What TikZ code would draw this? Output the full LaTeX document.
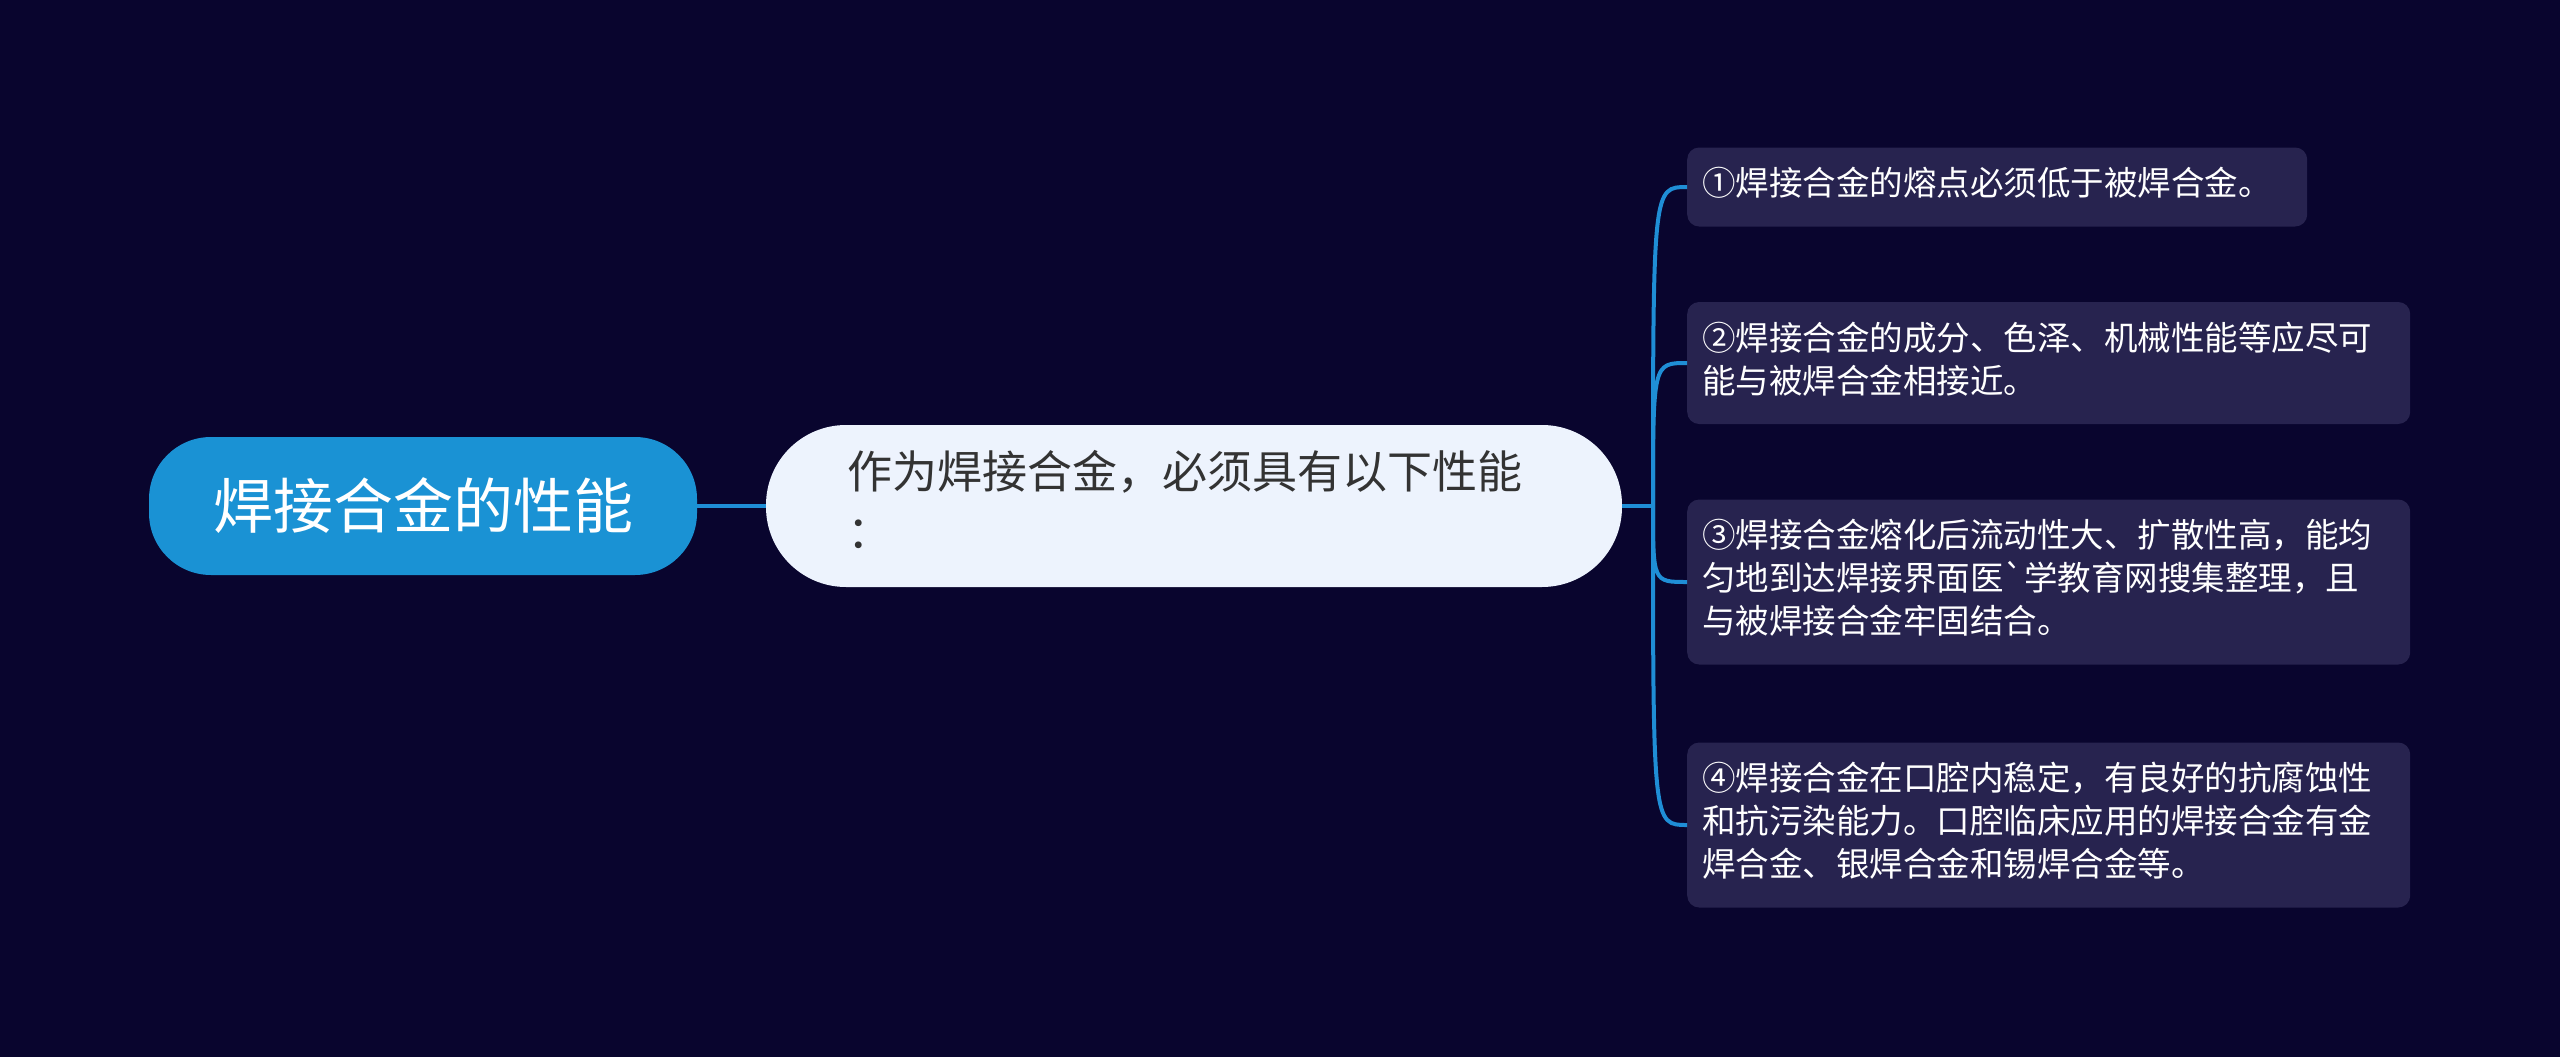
\documentclass[tikz,border=0pt]{standalone}
\usepackage{fontspec}
\setmainfont{Noto Sans CJK SC}[Ligatures=TeXOff]
\usepackage{tikz}
\usetikzlibrary{positioning,calc}

\definecolor{bgcol}{HTML}{09052E}
\definecolor{rootcol}{HTML}{1A92D4}
\definecolor{maincol}{HTML}{EDF3FD}
\definecolor{leafcol}{HTML}{27234F}
\definecolor{linecol}{HTML}{1F8ED6}
\definecolor{darktext}{HTML}{333333}

\begin{document}
\begin{tikzpicture}[x=1pt, y=-1pt,
        rootnode/.style={draw=none, fill=rootcol, rounded corners=62pt, minimum width=548pt, minimum height=138pt, text=white, font=\fontsize{60}{72}\selectfont},
        mainnode/.style={draw=none, fill=maincol, rounded corners=80pt, minimum width=856pt, minimum height=162pt, text=darktext, align=left, text width=694pt, inner xsep=81pt, font=\fontsize{45}{60}\selectfont},
        leafnode/.style={draw=none, fill=leafcol, rounded corners=12pt, anchor=west, text=white, align=left, inner xsep=15pt, inner ysep=18pt, font=\fontsize{33.5}{43}\selectfont, execute at begin node={\strut}, execute at end node={\strut}},
        link/.style={draw=linecol, line width=4pt}
    ]

    % Background
    \fill[bgcol] (0,0) rectangle (2560,1057);

    % Nodes
    \node[rootnode] (root) at (423,506) {焊接合金的性能};
    \node[mainnode] (main) at (1194,506) {\strut 作为焊接合金，必须具有以下性能\\：\strut};
    \coordinate (J) at (1653,506);

    \node[leafnode, text width=590pt] (L1) at (1687,187) {①焊接合金的熔点必须低于被焊合金。};
    \node[leafnode, text width=693pt] (L2) at (1687,363) {②焊接合金的成分、色泽、机械性能等应尽可\\能与被焊合金相接近。};
    \node[leafnode, text width=693pt] (L3) at (1687,582) {③焊接合金熔化后流动性大、扩散性高，能均\\匀地到达焊接界面医`学教育网搜集整理，且\\与被焊接合金牢固结合。};
    \node[leafnode, text width=693pt] (L4) at (1687,825) {④焊接合金在口腔内稳定，有良好的抗腐蚀性\\和抗污染能力。口腔临床应用的焊接合金有金\\焊合金、银焊合金和锡焊合金等。};

    % Edges
    \draw[link] (root.east) -- (main.west);
    \draw[link] (main.east) -- (J);

    \draw[link] (J) .. controls (J |- L1.west) .. (L1.west);
    \draw[link] (J) .. controls (J |- L2.west) .. (L2.west);
    \draw[link] (J) .. controls (J |- L3.west) .. (L3.west);
    \draw[link] (J) .. controls (J |- L4.west) .. (L4.west);
\end{tikzpicture}
\end{document}
